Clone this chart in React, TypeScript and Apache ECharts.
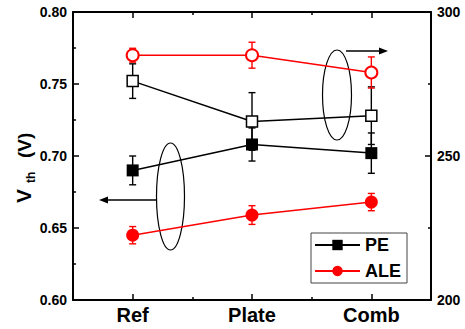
import React, { useEffect, useRef } from "react";
import * as echarts from "echarts";

// Sample groups along the x axis
const categories = ["Ref", "Plate", "Comb"];

// Threshold voltage (left axis, V) with error half-widths
const peVth = [0.69, 0.708, 0.702];
const peVthErr = [0.01, 0.0115, 0.014];
const aleVth = [0.645, 0.659, 0.668];
const aleVthErr = [0.006, 0.0065, 0.006];

// Second quantity (right axis) with error half-widths
const peRight = [276, 262, 264];
const peRightErr = [6, 10, 10];
const aleRight = [285, 285, 279];
const aleRightErr = [2.4, 4.5, 5.4];

// Axis ranges
const leftRange = { min: 0.6, max: 0.8, interval: 0.05 };
const rightRange = { min: 200, max: 300, interval: 50 };

const FONT = "'Liberation Sans', Arial, sans-serif";
const RED = "#ff0000";
const BLACK = "#000000";

function errorBars(color: string) {
  return (params: any, api: any) => {
    const i = api.value(0);
    const v = api.value(1);
    const e = api.value(2);
    const top = api.coord([i, v + e]);
    const bot = api.coord([i, v - e]);
    const hw = 3.5;
    const style = { stroke: color, lineWidth: 1.4 };
    return {
      type: "group",
      children: [
        { type: "line", shape: { x1: top[0], y1: top[1], x2: bot[0], y2: bot[1] }, style },
        { type: "line", shape: { x1: top[0] - hw, y1: top[1], x2: top[0] + hw, y2: top[1] }, style },
        { type: "line", shape: { x1: bot[0] - hw, y1: bot[1], x2: bot[0] + hw, y2: bot[1] }, style },
      ],
    };
  };
}

function errSeries(values: number[], errs: number[], color: string, yAxisIndex: number) {
  return {
    type: "custom",
    xAxisIndex: 0,
    yAxisIndex,
    z: 1,
    silent: true,
    renderItem: errorBars(color),
    encode: { x: 0, y: 1 },
    data: values.map((v, i) => [i, v, errs[i]]),
  };
}

export default function App() {
  const ref = useRef<HTMLDivElement>(null);

  useEffect(() => {
    if (!ref.current) return;
    const chart = echarts.init(ref.current, undefined, { renderer: "svg" });

    const axisLine = { show: true, lineStyle: { color: BLACK, width: 2 } };
    const catBase = {
      type: "category",
      data: categories,
      boundaryGap: true,
      splitLine: { show: false },
    };

    const option: any = {
      animation: false,
      backgroundColor: "#ffffff",
      grid: { left: 73, right: 34, top: 12, bottom: 29 },
      legend: {
        data: ["PE", "ALE"],
        orient: "vertical",
        left: 311,
        top: 233,
        itemWidth: 45,
        itemHeight: 13,
        itemGap: 8,
        padding: [3, 6, 3, 3],
        borderColor: "#444",
        borderWidth: 1,
        textStyle: { fontFamily: FONT, fontWeight: "bold", fontSize: 18, color: BLACK },
      },
      xAxis: [
        {
          ...catBase,
          position: "bottom",
          axisLine,
          axisTick: { show: true, inside: true, length: 3, interval: 0, alignWithLabel: false, lineStyle: { color: BLACK, width: 1.5 } },
          axisLabel: { show: true, interval: 0, margin: 5, fontFamily: FONT, fontWeight: "bold", fontSize: 20, color: BLACK },
        },
        {
          ...catBase,
          position: "bottom",
          axisLine: { show: false },
          axisTick: { show: true, inside: true, length: 6, interval: 0, alignWithLabel: true, lineStyle: { color: BLACK, width: 1.5 } },
          axisLabel: { show: false },
        },
        {
          ...catBase,
          position: "top",
          axisLine,
          axisTick: { show: true, inside: true, length: 3, interval: 0, alignWithLabel: false, lineStyle: { color: BLACK, width: 1.5 } },
          axisLabel: { show: false },
        },
        {
          ...catBase,
          position: "top",
          axisLine: { show: false },
          axisTick: { show: true, inside: true, length: 6, interval: 0, alignWithLabel: true, lineStyle: { color: BLACK, width: 1.5 } },
          axisLabel: { show: false },
        },
      ],
      yAxis: [
        {
          type: "value",
          position: "left",
          ...leftRange,
          axisLine,
          splitLine: { show: false },
          axisTick: { show: true, inside: true, length: 6, lineStyle: { color: BLACK, width: 1.5 } },
          minorTick: { show: true, splitNumber: 2, length: 3, lineStyle: { color: BLACK, width: 1.5 } },
          axisLabel: {
            margin: 6,
            fontFamily: FONT,
            fontWeight: "bold",
            fontSize: 14,
            color: BLACK,
            formatter: (v: number) => v.toFixed(2),
          },
        },
        {
          type: "value",
          position: "right",
          ...rightRange,
          axisLine,
          splitLine: { show: false },
          axisTick: { show: true, inside: true, length: 6, lineStyle: { color: BLACK, width: 1.5 } },
          minorTick: { show: true, splitNumber: 2, length: 3, lineStyle: { color: BLACK, width: 1.5 } },
          axisLabel: {
            margin: 6,
            fontFamily: FONT,
            fontWeight: "bold",
            fontSize: 14,
            color: BLACK,
            formatter: (v: number) => String(Math.round(v)),
          },
        },
      ],
      series: [
        errSeries(peVth, peVthErr, BLACK, 0),
        errSeries(aleVth, aleVthErr, RED, 0),
        errSeries(peRight, peRightErr, BLACK, 1),
        errSeries(aleRight, aleRightErr, RED, 1),
        {
          name: "PE",
          type: "line",
          yAxisIndex: 0,
          z: 3,
          data: peVth,
          symbol: "rect",
          symbolSize: 12,
          lineStyle: { color: BLACK, width: 1.5 },
          itemStyle: { color: BLACK },
        },
        {
          name: "ALE",
          type: "line",
          yAxisIndex: 0,
          z: 3,
          data: aleVth,
          symbol: "circle",
          symbolSize: 13,
          lineStyle: { color: RED, width: 1.5 },
          itemStyle: { color: RED },
        },
        {
          name: "PE (right)",
          type: "line",
          yAxisIndex: 1,
          z: 3,
          data: peRight,
          symbol: "rect",
          symbolSize: 11,
          showAllSymbol: true,
          lineStyle: { color: BLACK, width: 1.5 },
          itemStyle: { color: "#ffffff", borderColor: BLACK, borderWidth: 1.5 },
        },
        {
          name: "ALE (right)",
          type: "line",
          yAxisIndex: 1,
          z: 3,
          data: aleRight,
          symbol: "circle",
          symbolSize: 12,
          lineStyle: { color: RED, width: 1.5 },
          itemStyle: { color: "#ffffff", borderColor: RED, borderWidth: 2 },
        },
      ],
      graphic: [
        // y-axis title: V_th (V), rotated to read bottom-to-top
        {
          type: "group",
          x: 34,
          y: 203,
          rotation: Math.PI / 2,
          children: [
            { type: "text", x: 0, y: 0, style: { text: "V", fontFamily: FONT, fontWeight: "bold", fontSize: 21, fill: BLACK, align: "left", verticalAlign: "bottom" } },
            { type: "text", x: 20, y: 2.5, style: { text: "th", fontFamily: FONT, fontWeight: "bold", fontSize: 12, fill: BLACK, align: "left", verticalAlign: "bottom" } },
            { type: "text", x: 45, y: 0, style: { text: "(V)", fontFamily: FONT, fontWeight: "bold", fontSize: 19, fill: BLACK, align: "left", verticalAlign: "bottom" } },
          ],
        },
        // group marker for the left-axis data
        { type: "ellipse", shape: { cx: 170.5, cy: 196.5, rx: 14, ry: 53.5 }, style: { fill: "none", stroke: BLACK, lineWidth: 1.2 } },
        { type: "line", shape: { x1: 157, y1: 200, x2: 106, y2: 200 }, style: { stroke: BLACK, lineWidth: 1.3 } },
        { type: "polygon", shape: { points: [[99, 200], [108, 196.5], [108, 203.5]] }, style: { fill: BLACK } },
        // group marker for the right-axis data
        { type: "ellipse", shape: { cx: 337, cy: 95, rx: 14.5, ry: 45 }, style: { fill: "none", stroke: BLACK, lineWidth: 1.2 } },
        { type: "line", shape: { x1: 346, y1: 51, x2: 381, y2: 51 }, style: { stroke: BLACK, lineWidth: 1.3 } },
        { type: "polygon", shape: { points: [[388, 51], [379, 47.5], [379, 54.5]] }, style: { fill: BLACK } },
      ],
    };

    chart.setOption(option);
    return () => chart.dispose();
  }, []);

  return (
    <div
      ref={ref}
      style={{ position: "absolute", left: 0, top: 0, width: 465, height: 329, background: "#fff" }}
    />
  );
}
